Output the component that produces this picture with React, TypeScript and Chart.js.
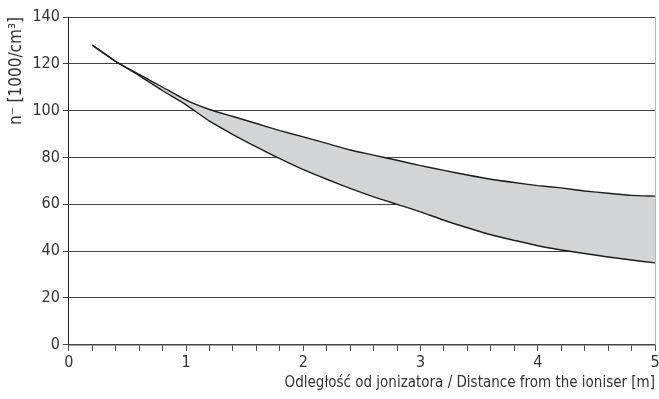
import React, { useEffect, useRef } from "react";
import { Chart, registerables } from "chart.js";

Chart.register(...registerables);

const distances = [0.2, 0.4, 0.6, 0.8, 1.0, 1.2, 1.4, 1.6, 1.8, 2.0, 2.2, 2.4, 2.6, 2.8, 3.0, 3.2, 3.4, 3.6, 3.8, 4.0, 4.2, 4.4, 4.6, 4.8, 5.0];
const upperValues = [128, 121, 115.5, 110, 104.5, 100.5, 97.5, 94.5, 91.5, 88.8, 86, 83.2, 81, 78.8, 76.5, 74.5, 72.5, 70.7, 69.3, 68, 67, 65.7, 64.7, 63.8, 63.5];
const lowerValues = [128, 121, 115, 108.5, 102.5, 95.5, 89.8, 84.5, 79.5, 74.8, 70.7, 66.8, 63.2, 60, 56.8, 53.2, 50, 47, 44.6, 42.3, 40.5, 39, 37.5, 36.2, 35];
const yTicks = [0, 20, 40, 60, 80, 100, 120, 140];
const xTickLabels = ["0", "1", "2", "3", "4", "5"];
const xTitle = "Odległość od jonizatora / Distance from the ioniser [m]";
const yTitle = "n\u207B [1000/cm\u00B3]";

const FONT = "'Liberation Sans Narrow', 'DejaVu Sans Condensed', 'Arial Narrow', sans-serif";

export default function App() {
  const ref = useRef<HTMLCanvasElement | null>(null);
  useEffect(() => {
    if (!ref.current) return;
    const upper = distances.map((x, i) => ({ x, y: upperValues[i] }));
    const lower = distances.map((x, i) => ({ x, y: lowerValues[i] }));
    const last = distances.length - 1;
    const closing = [
      { x: distances[last], y: upperValues[last] },
      { x: distances[last], y: lowerValues[last] },
    ];
    const rightBorder = {
      id: "rightBorder",
      afterDatasetsDraw(chart: any) {
        const { ctx, chartArea } = chart;
        ctx.save();
        ctx.strokeStyle = "#b8b8b8";
        ctx.lineWidth = 1;
        ctx.beginPath();
        ctx.moveTo(Math.round(chartArea.right) + 0.5, chartArea.top);
        ctx.lineTo(Math.round(chartArea.right) + 0.5, chartArea.bottom);
        ctx.stroke();
        ctx.restore();
      },
    };
    const chart = new Chart(ref.current, {
      type: "line",
      data: {
        datasets: [
          {
            data: upper,
            borderColor: "#1e1e1e",
            borderWidth: 1.4,
            pointRadius: 0,
            tension: 0.2,
            fill: false,
          },
          {
            data: lower,
            borderColor: "#1e1e1e",
            borderWidth: 1.4,
            pointRadius: 0,
            tension: 0.2,
            fill: { target: 0 },
            backgroundColor: "#d3d4d6",
          },
          {
            data: closing,
            borderColor: "#1e1e1e",
            borderWidth: 1.4,
            pointRadius: 0,
            fill: false,
          },
        ],
      },
      plugins: [rightBorder],
      options: {
        animation: false,
        responsive: false,
        maintainAspectRatio: false,
        layout: { padding: { top: 17, right: 4, left: 6, bottom: 7 } },
        plugins: { legend: { display: false }, tooltip: { enabled: false } },
        scales: {
          x: {
            type: "linear",
            min: 0,
            max: 5,
            afterFit: (scale: any) => {
              scale.paddingRight = 0;
            },
            ticks: {
              stepSize: 0.2,
              autoSkip: false,
              maxRotation: 0,
              color: "#333",
              font: { family: FONT, size: 16 },
              padding: 2,
              callback: (v: any) => {
                const n = Number(v);
                const r = Math.round(n);
                return Math.abs(n - r) < 1e-6 ? xTickLabels[r] : "";
              },
            },
            grid: { drawOnChartArea: false, drawTicks: true, tickLength: 6, color: "#444" },
            border: { display: true, color: "#444", width: 1.5 },
            title: {
              display: true,
              text: xTitle,
              align: "end",
              color: "#333",
              font: { family: FONT, size: 15 },
              padding: { top: 0, bottom: 0 },
            },
          },
          y: {
            min: 0,
            max: 140,
            afterBuildTicks: (axis: any) => {
              axis.ticks = yTicks.map((v) => ({ value: v }));
            },
            ticks: {
              color: "#333",
              font: { family: FONT, size: 16 },
              padding: 3,
            },
            grid: { color: "#444", lineWidth: 1, tickLength: 6 },
            border: { display: true, color: "#222", width: 1 },
            title: {
              display: true,
              text: yTitle,
              align: "end",
              color: "#333",
              font: { family: FONT, size: 17 },
              padding: { top: 0, bottom: 3 },
            },
          },
        },
      },
    });
    return () => chart.destroy();
  }, []);
  return (
    <div style={{ position: "fixed", left: 0, top: 0, width: 659, height: 399, background: "#fff" }}>
      <canvas ref={ref} width={659} height={399} style={{ width: 659, height: 399 }} />
    </div>
  );
}
